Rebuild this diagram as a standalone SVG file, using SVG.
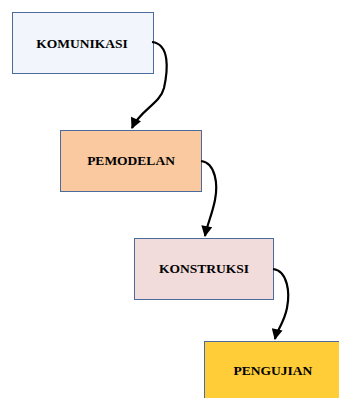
<svg xmlns="http://www.w3.org/2000/svg" width="339" height="398" viewBox="0 0 339 398">
<defs>
<style>
.box{stroke:#4A6B9C;stroke-width:1}
.lbl{font-family:"Liberation Serif","Times New Roman",serif;font-weight:bold;font-size:13.5px;fill:#000;text-anchor:middle;dominant-baseline:central}
.con{fill:none;stroke:#000;stroke-width:2.2}
</style>
<marker id="ah" viewBox="0 0 10 10" refX="9" refY="5" markerWidth="5.5" markerHeight="5" orient="auto" markerUnits="strokeWidth">
<path d="M0,0 L10,5 L0,10 z" fill="#000"/>
</marker>
</defs>
<g id="komunikasi"><rect class="box" x="12.5" y="12.5" width="141" height="61" fill="#F2F5FB"/><text class="lbl" x="82" y="43">KOMUNIKASI</text></g>
<g id="pemodelan"><rect class="box" x="60.5" y="130.5" width="141" height="61" fill="#FAC9A0"/><text class="lbl" x="131" y="160">PEMODELAN</text></g>
<g id="konstruksi"><rect class="box" x="134.5" y="238.5" width="139" height="61" fill="#F2DCDB"/><text class="lbl" x="204" y="268">KONSTRUKSI</text></g>
<g id="pengujian"><rect class="box" x="204.5" y="341.5" width="140" height="62" fill="#FFCD37"/><text class="lbl" x="273" y="370">PENGUJIAN</text></g>
<g id="connectors">
<path class="con" marker-end="url(#ah)" d="M152,42 C170,44 168,70 164,88 C160,104 140,110 132,128"/>
<path class="con" marker-end="url(#ah)" d="M201,161 C216,163 218,185 215,200 C212,215 207,225 205,236"/>
<path class="con" marker-end="url(#ah)" d="M273,269 C288,271 290,293 287,308 C284,323 277,330 275,339"/>
</g>
</svg>
